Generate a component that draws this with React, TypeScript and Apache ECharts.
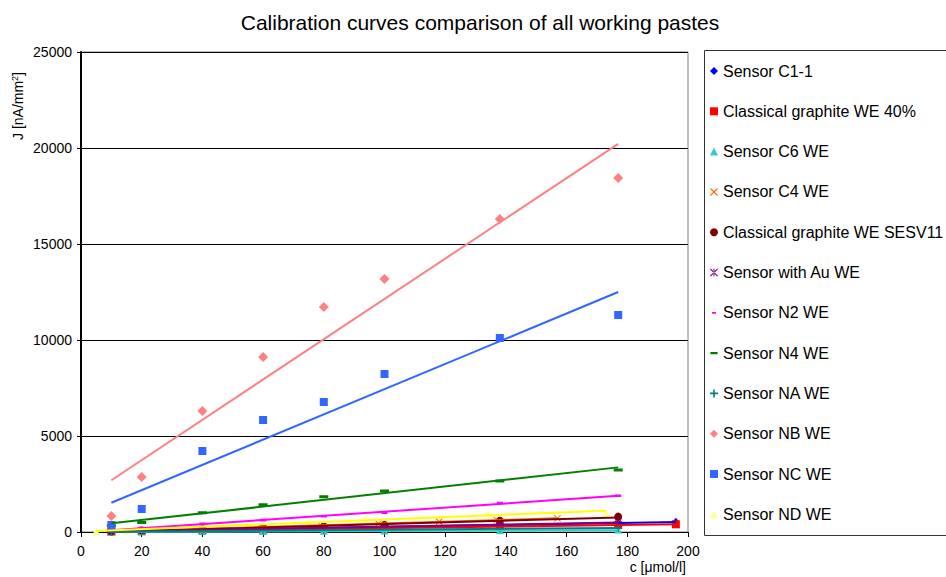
import React, { useEffect, useRef } from 'react';
import * as echarts from 'echarts';

// ---- data ----
const xCommon = [10, 20, 40, 60, 80, 100, 138, 177];
const xLong = [10, 20, 40, 60, 80, 100, 138, 177, 196];
const xC4 = [20, 39, 59, 79, 98, 118, 137, 157];
const xND = [5, 15, 35, 55, 75, 94, 134, 173];

const yC1 = [30, 60, 110, 160, 210, 260, 350, 450, 540];
const yG40 = [20, 40, 80, 120, 160, 200, 280, 360, 400];
const yC6 = [5, 10, 20, 30, 40, 50, 60, 110];
const yC4 = [80, 170, 260, 350, 440, 530, 620, 710];
const ySESV11 = [40, 80, 140, 220, 290, 370, 590, 800];
const yAu = [20, 50, 100, 160, 220, 290, 390, 490];
const yN2 = [120, 200, 420, 620, 820, 1000, 1510, 1890];
const yN4 = [330, 500, 1006, 1424, 1840, 2135, 2656, 3229];
const yNA = [10, 20, 40, 70, 90, 110, 160, 210];
const yNB = [833, 2865, 6302, 9115, 11719, 13177, 16302, 18437];
const yNC = [365, 1198, 4219, 5833, 6771, 8229, 10104, 11302];
const yND = [30, 60, 250, 380, 505, 730, 940, 990];

const seriesNames = [
  'Sensor C1-1',
  'Classical graphite WE 40%',
  'Sensor C6 WE',
  'Sensor C4 WE',
  'Classical graphite WE SESV11',
  'Sensor with Au WE',
  'Sensor N2 WE',
  'Sensor N4 WE',
  'Sensor NA WE',
  'Sensor NB WE',
  'Sensor NC WE',
  'Sensor ND WE',
];
const seriesX = [xLong, xLong, xCommon, xC4, xCommon, xCommon, xCommon, xCommon, xCommon, xCommon, xCommon, xND];
const seriesY = [yC1, yG40, yC6, yC4, ySESV11, yAu, yN2, yN4, yNA, yNB, yNC, yND];

const xTicks = { min: 0, max: 200, interval: 20 };
const yTicks = { min: 0, max: 25000, interval: 5000 };

// ---- styles ----
const X_PATH = 'path://M1,0L5,4L9,0L10,1L6,5L10,9L9,10L5,6L1,10L0,9L4,5L0,1Z';
const PLUS_PATH = 'path://M4,0H6V4H10V6H6V10H4V6H0V4H4Z';
const STAR_PATH = 'path://M1,0L5,4L9,0L10,1L6,5L10,9L9,10L5,6L1,10L0,9L4,5L0,1Z M4.4,0V10H5.6V0Z';
// dashes padded to a 10x10 box with invisible specks so they keep their size
const N2_PATH = 'path://M0,0h0.01v0.01z M10,10h-0.01v-0.01z M2.5,3.9H7.5V6.1H2.5Z';
const N4_PATH = 'path://M0,0h0.01v0.01z M10,10h-0.01v-0.01z M0.5,3.5H9.5V6.5H0.5Z';

const styles = [
  { color: '#0000FF', line: '#0000FF', symbol: 'diamond', size: [7, 8] },
  { color: '#FF0000', line: '#FF0000', symbol: 'rect', size: [8, 8] },
  { color: '#33CCCC', line: '#33CCCC', symbol: 'triangle', size: [8, 7] },
  { color: '#FF6600', line: '#FF6600', symbol: X_PATH, size: [7, 7] },
  { color: '#800000', line: '#800000', symbol: 'circle', size: [8, 8] },
  { color: '#800080', line: '#800080', symbol: STAR_PATH, size: [7, 7] },
  { color: '#FF00FF', line: '#FF00FF', symbol: N2_PATH, size: [12, 12] },
  { color: '#008000', line: '#008000', symbol: N4_PATH, size: [10, 10] },
  { color: '#008080', line: '#008080', symbol: PLUS_PATH, size: [7, 7] },
  { color: '#FF8080', line: '#FF8080', symbol: 'diamond', size: [10, 10] },
  { color: '#3366FF', line: '#3366FF', symbol: 'rect', size: [8, 8] },
  { color: '#FFFF99', line: '#FFFF00', symbol: 'triangle', size: [8, 7] },
];

const FONT = '"Liberation Sans", Arial, sans-serif';

// least-squares linear trendline over the data's x-range
function trend(xs: number[], ys: number[]) {
  const n = xs.length;
  const mx = xs.reduce((a, b) => a + b, 0) / n;
  const my = ys.reduce((a, b) => a + b, 0) / n;
  let sxy = 0;
  let sxx = 0;
  for (let i = 0; i < n; i++) {
    sxy += (xs[i] - mx) * (ys[i] - my);
    sxx += (xs[i] - mx) * (xs[i] - mx);
  }
  const b = sxy / sxx;
  const a = my - b * mx;
  const x0 = Math.min(...xs);
  const x1 = Math.max(...xs);
  return [
    [x0, a + b * x0],
    [x1, a + b * x1],
  ];
}

export default function App() {
  const ref = useRef<HTMLDivElement>(null);

  useEffect(() => {
    if (!ref.current) return;
    const chart = echarts.init(ref.current, null, { renderer: 'svg' });

    const scatter = seriesNames.map((name, i) => ({
      name,
      type: 'scatter',
      data: seriesX[i].map((x, j) => [x, seriesY[i][j]]),
      symbol: styles[i].symbol,
      symbolSize: styles[i].size,
      symbolKeepAspect: true,
      itemStyle: { color: styles[i].color, opacity: 1 },
      z: 2,
      silent: true,
    }));

    const trends = seriesNames.map((name, i) => ({
      name: name + ' (trend)',
      type: 'line',
      data: trend(seriesX[i], seriesY[i]),
      showSymbol: false,
      symbol: 'none',
      lineStyle: { color: styles[i].line, width: 2 },
      itemStyle: { color: styles[i].line },
      z: 3,
      silent: true,
    }));

    chart.setOption({
      animation: false,
      backgroundColor: '#fff',
      grid: {
        left: 81,
        top: 52,
        width: 607,
        height: 480,
        show: true,
        borderColor: '#808080',
        borderWidth: 1,
        backgroundColor: 'transparent',
      },
      xAxis: {
        type: 'value',
        min: xTicks.min,
        max: xTicks.max,
        interval: xTicks.interval,
        axisLine: { show: true, onZero: false, lineStyle: { color: '#000', width: 1 } },
        axisTick: { show: true, length: 5, lineStyle: { color: '#000' } },
        axisLabel: { fontSize: 14, color: '#000', fontFamily: FONT, margin: 12 },
        splitLine: { show: false },
      },
      yAxis: {
        type: 'value',
        min: yTicks.min,
        max: yTicks.max,
        interval: yTicks.interval,
        axisLine: { show: true, lineStyle: { color: '#000', width: 2 } },
        axisTick: { show: true, length: 4, lineStyle: { color: '#000' } },
        axisLabel: {
          fontSize: 14,
          color: '#000',
          fontFamily: FONT,
          margin: 9,
          formatter: (v: number) => String(v),
        },
        splitLine: { show: true, lineStyle: { color: '#000', width: 1 } },
      },
      legend: {
        data: seriesNames,
        orient: 'vertical',
        left: 710,
        top: 63,
        padding: 0,
        itemWidth: 8,
        itemHeight: 8,
        itemGap: 24.3,
        selectedMode: false,
        textStyle: { fontSize: 16, lineHeight: 16, color: '#000', fontFamily: FONT },
      },
      graphic: [
        {
          type: 'rect',
          shape: { x: 704.5, y: 50.5, width: 300, height: 485 },
          style: { fill: 'none', stroke: '#333', lineWidth: 1 },
          z: -1,
          silent: true,
        },
        {
          type: 'text',
          x: 480,
          y: 22,
          style: {
            text: 'Calibration curves comparison of all working pastes',
            font: '21px ' + FONT,
            fill: '#000',
            textAlign: 'center',
            textVerticalAlign: 'middle',
          },
        },
        {
          type: 'text',
          x: 18,
          y: 106,
          rotation: Math.PI / 2,
          style: {
            text: 'J [nA/mm{sup|2}]',
            font: '14px ' + FONT,
            fill: '#000',
            textAlign: 'center',
            textVerticalAlign: 'middle',
            rich: {
              sup: { fontSize: 9, fontFamily: FONT, verticalAlign: 'top', lineHeight: 16 },
            },
          },
        },
        {
          type: 'text',
          x: 686,
          y: 567,
          style: {
            text: 'c [μmol/l]',
            font: '14px ' + FONT,
            fill: '#000',
            textAlign: 'right',
            textVerticalAlign: 'middle',
          },
        },
      ],
      series: [...scatter, ...trends],
    });

    return () => chart.dispose();
  }, []);

  return (
    <div
      ref={ref}
      style={{ position: 'fixed', left: 0, top: 0, width: 946, height: 577 }}
    />
  );
}
